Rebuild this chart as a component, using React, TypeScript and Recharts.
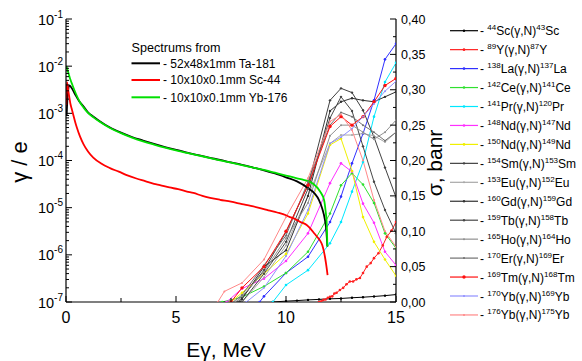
import React from 'react';
import { ComposedChart, Line, XAxis, YAxis } from 'recharts';

const FONT = '"Liberation Sans", Arial, Helvetica, sans-serif';

// ---------- photon spectra (left, log axis) ----------
const taE = [0.03, 0.08, 0.15, 0.25, 0.4, 0.6, 0.8, 1.0, 1.25, 1.5, 2, 2.5, 3, 3.5, 4, 4.5, 5, 5.5, 6, 6.5, 7, 7.5, 8, 8.5, 9, 9.5, 10, 10.5, 11, 11.3, 11.5, 11.65, 11.77, 11.84, 11.88];
const taV = [9e-4, 2.6e-3, 3.9e-3, 3.5e-3, 2.6e-3, 1.8e-3, 1.4e-3, 1.05e-3, 8.5e-4, 7.0e-4, 5.0e-4, 3.9e-4, 3.15e-4, 2.65e-4, 2.25e-4, 1.93e-4, 1.68e-4, 1.47e-4, 1.3e-4, 1.15e-4, 1.03e-4, 9.1e-5, 8.1e-5, 7.1e-5, 6.2e-5, 5.3e-5, 4.4e-5, 3.6e-5, 2.6e-5, 2.0e-5, 1.45e-5, 9.5e-6, 5.5e-6, 3.0e-6, 1.5e-6];

const scSpE = [0.01, 0.04, 0.07, 0.1, 0.15, 0.2, 0.27, 0.33, 0.42, 0.5, 0.64, 0.8, 1.0, 1.24, 1.6, 2.0, 2.4, 2.76, 3.2, 3.6, 4.0, 4.27, 4.7, 5.1, 5.5, 5.79, 6.2, 6.55, 7.0, 7.5, 8.0, 8.4, 8.82, 9.2, 9.6, 10.0, 10.18, 10.4, 10.64, 10.94, 11.09, 11.3, 11.45, 11.55, 11.65, 11.72, 11.77, 11.82, 11.86, 11.89];
const scSpV = [1.5e-3, 4.6e-3, 4.0e-3, 3.1e-3, 2.2e-3, 1.6e-3, 1.2e-3, 9.3e-4, 6.5e-4, 4.9e-4, 3.2e-4, 2.2e-4, 1.55e-4, 1.15e-4, 8.6e-5, 6.9e-5, 5.8e-5, 4.9e-5, 4.15e-5, 3.65e-5, 3.2e-5, 3.0e-5, 2.68e-5, 2.47e-5, 2.2e-5, 2.05e-5, 1.78e-5, 1.62e-5, 1.47e-5, 1.34e-5, 1.19e-5, 1.09e-5, 9.8e-6, 8.8e-6, 7.9e-6, 6.9e-6, 6.3e-6, 5.8e-6, 5.0e-6, 4.3e-6, 3.7e-6, 2.8e-6, 2.3e-6, 2.0e-6, 1.6e-6, 1.2e-6, 9.1e-7, 6.5e-7, 4.8e-7, 3.7e-7];

const ybSpE = [0.02, 0.06, 0.1, 0.15, 0.2, 0.3, 0.45, 0.64, 0.8, 1.0, 1.25, 1.5, 2, 2.5, 3, 3.5, 4, 4.5, 5, 5.5, 6, 6.5, 7, 7.5, 8, 8.5, 9, 9.5, 10, 10.5, 10.8, 11.2, 11.55, 11.73, 11.8, 11.85, 11.88];
const ybSpV = [1.0e-2, 8.6e-3, 7.4e-3, 6.2e-3, 5.2e-3, 3.9e-3, 2.6e-3, 1.7e-3, 1.32e-3, 1.02e-3, 8.2e-4, 6.8e-4, 4.9e-4, 3.8e-4, 3.05e-4, 2.55e-4, 2.18e-4, 1.88e-4, 1.64e-4, 1.45e-4, 1.29e-4, 1.14e-4, 1.01e-4, 9.0e-5, 8.0e-5, 7.1e-5, 6.3e-5, 5.5e-5, 4.8e-5, 4.2e-5, 3.9e-5, 3.3e-5, 2.2e-5, 1.45e-5, 8.5e-6, 4.7e-6, 1.5e-6];

// ---------- cross sections (right axis, barn) ----------
const sc44E = [9.4, 10, 10.5, 11, 11.5, 12, 12.5, 13, 13.5, 14, 14.5, 15];
const sc44S = [0, 0.0012, 0.002, 0.003, 0.0037, 0.0045, 0.005, 0.006, 0.0068, 0.0078, 0.009, 0.0105];
const y89E = [11.5, 11.6, 11.7, 11.8, 11.9, 12.0, 12.1, 12.2, 12.3, 12.45, 12.6, 12.75, 12.9, 13.05, 13.2, 13.36, 13.5, 13.67, 13.85, 14.0, 14.2, 14.4, 14.58, 14.8, 15.0];
const y89S = [0, 0.001, 0.003, 0.0035, 0.006, 0.0075, 0.008, 0.012, 0.013, 0.017, 0.02, 0.025, 0.029, 0.029, 0.032, 0.034, 0.041, 0.05, 0.055, 0.062, 0.069, 0.08, 0.092, 0.101, 0.113];
const la138E = [8.8, 9, 10, 11, 12, 12.5, 13, 13.5, 14, 14.5, 15];
const la138S = [0, 0.008, 0.041, 0.064, 0.113, 0.149, 0.196, 0.238, 0.285, 0.343, 0.365];
const ce142E = [7.1, 8, 9, 10, 11, 12, 12.5, 13, 13.5, 14, 14.5, 15];
const ce142S = [0, 0.007, 0.022, 0.041, 0.071, 0.125, 0.165, 0.182, 0.166, 0.14, 0.097, 0.076];
const pr141E = [9.4, 10, 11, 12, 12.5, 13, 13.5, 14, 14.5, 15];
const pr141S = [0, 0.024, 0.045, 0.083, 0.113, 0.156, 0.198, 0.262, 0.311, 0.338];
const nd148E = [7.3, 8, 9, 10, 11, 12, 12.5, 13, 13.5, 14, 14.5, 15];
const nd148S = [0, 0.019, 0.033, 0.058, 0.097, 0.168, 0.196, 0.184, 0.139, 0.112, 0.071, 0.052];
const nd150E = [7.5, 8, 9, 10, 11, 12, 12.5, 13, 13.5, 14, 14.5, 15];
const nd150S = [0, 0.013, 0.04, 0.068, 0.125, 0.222, 0.231, 0.185, 0.12, 0.085, 0.06, 0.037];
const sm154E = [7.8, 8, 9, 10, 11, 12, 12.5, 13, 13.5, 14, 14.5, 15];
const sm154S = [0, 0.006, 0.045, 0.099, 0.165, 0.285, 0.302, 0.296, 0.271, 0.233, 0.19, 0.148];
const eu153E = [8, 9, 10, 11, 12, 12.5, 13, 13.5, 14, 14.5, 15];
const eu153S = [0, 0.035, 0.08, 0.15, 0.224, 0.236, 0.236, 0.238, 0.235, 0.226, 0.24];
const gd160E = [7.9, 8, 9, 10, 11, 12, 12.5, 13, 13.5, 14, 14.5, 15];
const gd160S = [0, 0.004, 0.05, 0.073, 0.15, 0.27, 0.283, 0.288, 0.285, 0.283, 0.29, 0.297];
const tb159E = [8, 9, 10, 11, 12, 12.5, 13, 13.5, 14, 14.5, 15];
const tb159S = [0, 0.04, 0.085, 0.16, 0.26, 0.29, 0.27, 0.22, 0.17, 0.13, 0.097];
const ho165E = [7.7, 8, 9, 10, 11, 12, 12.5, 13, 13.5, 14, 14.5, 15];
const ho165S = [0, 0.008, 0.043, 0.09, 0.14, 0.235, 0.25, 0.25, 0.24, 0.23, 0.24, 0.257];
const er170E = [7.6, 8, 9, 10, 11, 12, 12.5, 13, 13.5, 14, 14.5, 15];
const er170S = [0, 0.01, 0.052, 0.094, 0.17, 0.25, 0.268, 0.262, 0.25, 0.24, 0.228, 0.24];
const tm169E = [7.5, 8, 9, 10, 11, 12, 12.5, 13, 13.5, 14, 14.5, 15];
const tm169S = [0, 0.02, 0.05, 0.1, 0.165, 0.248, 0.262, 0.25, 0.262, 0.283, 0.306, 0.316];
const yb170E = [8.2, 9, 10, 11, 12, 12.5, 13, 13.5, 14, 14.5, 15];
const yb170S = [0, 0.02, 0.065, 0.13, 0.224, 0.233, 0.245, 0.262, 0.28, 0.298, 0.312];
const yb176E = [6.9, 7.2, 8, 9, 10, 11, 12, 12.5, 13, 13.5, 14, 14.5, 15];
const yb176S = [0, 0.015, 0.027, 0.06, 0.12, 0.175, 0.255, 0.265, 0.243, 0.2, 0.144, 0.1, 0.078];

// ---------- tick values ----------
const xTicks = [0, 2.5, 5, 7.5, 10, 12.5, 15];
const xLabelTicks = [0, 5, 10, 15];
const decades = [-7, -6, -5, -4, -3, -2, -1];
const rightTicks = [0, 0.025, 0.05, 0.075, 0.1, 0.125, 0.15, 0.175, 0.2, 0.225, 0.25, 0.275, 0.3, 0.325, 0.35, 0.375, 0.4];

const leftTicks: number[] = [];
decades.forEach((d) => {
  for (let m = 1; m <= 9; m++) {
    if (d === -1 && m > 1) break;
    leftTicks.push(Number((m * Math.pow(10, d)).toPrecision(3)));
  }
});

const zip = (E: number[], V: number[]) => E.map((x, i) => ({ x, y: V[i] }));

const spectra = [
  { key: 'ta', label: '- 52x48x1mm Ta-181', color: '#000000', data: zip(taE, taV) },
  { key: 'sc', label: '- 10x10x0.1mm Sc-44', color: '#ff0000', data: zip(scSpE, scSpV) },
  { key: 'yb', label: '- 10x10x0.1mm Yb-176', color: '#00e000', data: zip(ybSpE, ybSpV) },
];

const xs = [
  { key: 'sc44', a1: '44', e1: 'Sc', a2: '43', e2: 'Sc', color: '#000000', r: 1.2, data: zip(sc44E, sc44S) },
  { key: 'y89', a1: '89', e1: 'Y', a2: '87', e2: 'Y', color: '#ff2020', r: 1.3, data: zip(y89E, y89S) },
  { key: 'la138', a1: '138', e1: 'La', a2: '137', e2: 'La', color: '#3030ff', r: 1.3, data: zip(la138E, la138S) },
  { key: 'ce142', a1: '142', e1: 'Ce', a2: '141', e2: 'Ce', color: '#30e030', r: 1.3, data: zip(ce142E, ce142S) },
  { key: 'pr141', a1: '141', e1: 'Pr', a2: '120', e2: 'Pr', color: '#00e8ff', r: 1.3, data: zip(pr141E, pr141S) },
  { key: 'nd148', a1: '148', e1: 'Nd', a2: '147', e2: 'Nd', color: '#ff30ff', r: 1.3, data: zip(nd148E, nd148S) },
  { key: 'nd150', a1: '150', e1: 'Nd', a2: '149', e2: 'Nd', color: '#f0f000', r: 1.3, data: zip(nd150E, nd150S) },
  { key: 'sm154', a1: '154', e1: 'Sm', a2: '153', e2: 'Sm', color: '#404040', r: 1.2, data: zip(sm154E, sm154S) },
  { key: 'eu153', a1: '153', e1: 'Eu', a2: '152', e2: 'Eu', color: '#a8a8a8', r: 1.0, data: zip(eu153E, eu153S) },
  { key: 'gd160', a1: '160', e1: 'Gd', a2: '159', e2: 'Gd', color: '#303030', r: 1.2, data: zip(gd160E, gd160S) },
  { key: 'tb159', a1: '159', e1: 'Tb', a2: '158', e2: 'Tb', color: '#484848', r: 1.2, data: zip(tb159E, tb159S) },
  { key: 'ho165', a1: '165', e1: 'Ho', a2: '164', e2: 'Ho', color: '#909090', r: 1.0, data: zip(ho165E, ho165S) },
  { key: 'er170', a1: '170', e1: 'Er', a2: '169', e2: 'Er', color: '#707070', r: 1.0, data: zip(er170E, er170S) },
  { key: 'tm169', a1: '169', e1: 'Tm', a2: '168', e2: 'Tm', color: '#ff1010', r: 1.7, data: zip(tm169E, tm169S) },
  { key: 'yb170', a1: '170', e1: 'Yb', a2: '169', e2: 'Yb', color: '#9090ff', r: 1.0, data: zip(yb170E, yb170S) },
  { key: 'yb176', a1: '176', e1: 'Yb', a2: '175', e2: 'Yb', color: '#ff8888', r: 1.0, data: zip(yb176E, yb176S) },
];

const isDecade = (v: number) => {
  const e = Math.round(Math.log10(v));
  return Math.abs(v - Math.pow(10, e)) / v < 1e-6;
};

const LeftTick = (props: any) => {
  const { x, y, payload } = props;
  const v = payload.value as number;
  const major = isDecade(v);
  const e = Math.round(Math.log10(v));
  return (
    <g>
      <line x1={x} x2={x + (major ? 6 : 3)} y1={y} y2={y} stroke="#000" strokeWidth={1} />
      {major && (
        <text x={x - 3} y={y + 5.5} textAnchor="end" fontFamily={FONT} fontSize={14.5} fill="#000">
          10<tspan fontSize={10} dy={-7}>{String(e)}</tspan>
        </text>
      )}
    </g>
  );
};

const RightTick = (props: any) => {
  const { x, y, payload, index } = props;
  const v = payload.value as number;
  const major = index % 2 === 0;
  return (
    <g>
      <line x1={x} x2={x - (major ? 6 : 3)} y1={y} y2={y} stroke="#000" strokeWidth={1} />
      {major && (
        <text x={x + 5} y={y + 4.5} textAnchor="start" fontFamily={FONT} fontSize={12.5} fill="#000">
          {v.toFixed(2).replace('.', ',')}
        </text>
      )}
    </g>
  );
};

const BottomTick = (props: any) => {
  const { x, y, payload } = props;
  const v = payload.value as number;
  const major = xLabelTicks.includes(v);
  return (
    <g>
      <line x1={x} x2={x} y1={y} y2={y - (major ? 6 : 4)} stroke="#000" strokeWidth={1} />
      {major && (
        <text x={x} y={y + 21} textAnchor="middle" fontFamily={FONT} fontSize={16} fill="#000">
          {String(v)}
        </text>
      )}
    </g>
  );
};

const TopTick = (props: any) => {
  const { x, y, payload } = props;
  const v = payload.value as number;
  const major = xLabelTicks.includes(v);
  return <line x1={x} x2={x} y1={y} y2={y + (major ? 6 : 4)} stroke="#000" strokeWidth={1} />;
};

const Overlay = () => {
  const rowY0 = 30.7;
  const rowDy = 18.95;
  const inner = [63.3, 80, 97.3];
  return (
    <svg width={582} height={361} style={{ position: 'absolute', left: 0, top: 0, pointerEvents: 'none' }}>
      {/* axis titles */}
      <text transform="translate(27,162) rotate(-90)" textAnchor="middle" fontFamily={FONT} fontSize={22} fill="#000">γ / e</text>
      <text transform="translate(442,163) rotate(-90)" textAnchor="middle" fontFamily={FONT} fontSize={21} fill="#000">σ, banr</text>
      <text x={226} y={357} textAnchor="middle" fontFamily={FONT} fontSize={21} fill="#000">Eγ, MeV</text>

      {/* inner legend */}
      <text x={131.5} y={52} fontFamily={FONT} fontSize={12.6} fill="#000">Spectrums from</text>
      {spectra.map((s, i) => (
        <g key={s.key}>
          <line x1={131.5} x2={160} y1={inner[i]} y2={inner[i]} stroke={s.color} strokeWidth={2} />
          <text x={163} y={inner[i] + 4.3} fontFamily={FONT} fontSize={12} fill="#000">{s.label}</text>
        </g>
      ))}

      {/* right legend */}
      {xs.map((s, i) => {
        const cy = rowY0 + i * rowDy;
        return (
          <g key={s.key}>
            <line x1={450} x2={478} y1={cy} y2={cy} stroke={s.color} strokeWidth={1.2} />
            <circle cx={464} cy={cy} r={s.r} fill={s.color} />
            <text x={480} y={cy + 4.5} fontFamily={FONT} fontSize={12} fill="#000">
              {'- '}
              <tspan fontSize={8} dy={-5}>{s.a1}</tspan>
              <tspan dy={5}>{s.e1 + '(γ,N)'}</tspan>
              <tspan fontSize={8} dy={-5}>{s.a2}</tspan>
              <tspan dy={5}>{s.e2}</tspan>
            </text>
          </g>
        );
      })}
    </svg>
  );
};

export default function App() {
  return (
    <div style={{ position: 'absolute', left: 0, top: 0, width: 582, height: 361, background: '#fff' }}>
      <ComposedChart width={582} height={361} margin={{ top: 19, right: 0, bottom: 0, left: 0 }}>
        <XAxis
          xAxisId="bottom"
          dataKey="x"
          type="number"
          domain={[0, 15]}
          allowDataOverflow
          ticks={xTicks}
          interval={0}
          height={59}
          tickSize={0}
          tickMargin={0}
          tickLine={false}
          tick={BottomTick}
          axisLine={{ stroke: '#000', strokeWidth: 1.2 }}
        />
        <XAxis
          xAxisId="top"
          orientation="top"
          dataKey="x"
          type="number"
          domain={[0, 15]}
          allowDataOverflow
          ticks={xTicks}
          interval={0}
          height={0}
          tickSize={0}
          tickMargin={0}
          tickLine={false}
          tick={TopTick}
          axisLine={{ stroke: '#000', strokeWidth: 1 }}
        />
        <YAxis
          yAxisId="left"
          orientation="left"
          scale="log"
          type="number"
          domain={[1e-7, 0.1]}
          allowDataOverflow
          ticks={leftTicks}
          interval={0}
          width={66}
          tickSize={0}
          tickMargin={0}
          tickLine={false}
          tick={LeftTick}
          axisLine={{ stroke: '#000', strokeWidth: 1.2 }}
        />
        <YAxis
          yAxisId="right"
          orientation="right"
          type="number"
          domain={[0, 0.4]}
          allowDataOverflow
          ticks={rightTicks}
          interval={0}
          width={186}
          tickSize={0}
          tickMargin={0}
          tickLine={false}
          tick={RightTick}
          axisLine={{ stroke: '#000', strokeWidth: 1.2 }}
        />
        {xs.map((s) => (
          <Line
            key={s.key}
            data={s.data}
            dataKey="y"
            xAxisId="bottom"
            yAxisId="right"
            type="linear"
            stroke={s.color}
            strokeWidth={1}
            dot={{ r: s.r, fill: s.color, stroke: 'none' }}
            isAnimationActive={false}
          />
        ))}
        {spectra.map((s) => (
          <Line
            key={s.key}
            data={s.data}
            dataKey="y"
            xAxisId="bottom"
            yAxisId="left"
            type="monotone"
            stroke={s.color}
            strokeWidth={1.8}
            dot={false}
            isAnimationActive={false}
          />
        ))}
      </ComposedChart>
      <Overlay />
    </div>
  );
}
